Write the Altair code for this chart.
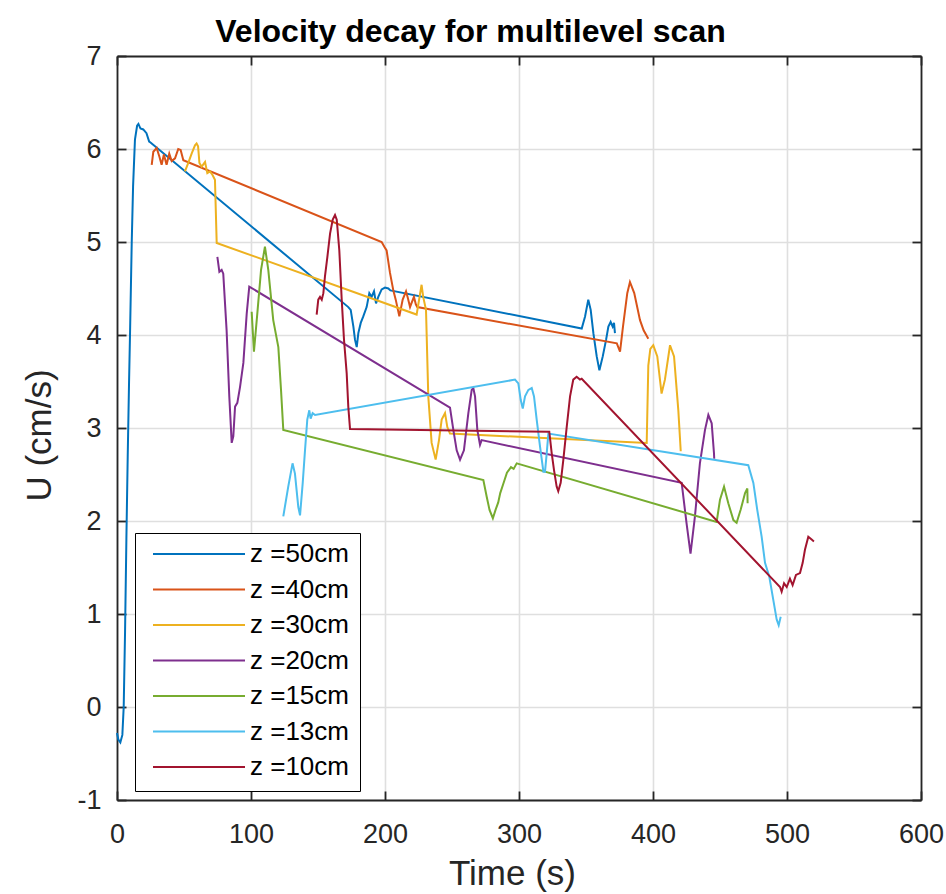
import altair as alt
import pandas as pd

# Depth labels and MATLAB default line colours
series_labels = ["z =50cm", "z =40cm", "z =30cm", "z =20cm", "z =15cm", "z =13cm", "z =10cm"]
series_colors = ["#0072BD", "#D95319", "#EDB120", "#7E2F8E", "#77AC30", "#4DBEEE", "#A2142F"]

# z = 50 cm
t_z50 = [0, 1, 2.5, 4, 5, 6, 7, 8, 9, 9.7, 11, 12, 13.4, 15, 16, 17.5, 19.6, 22, 24, 25,
         172.6, 174.4, 176.4, 177.6, 178.9, 180.1, 181.9, 183.8, 186.3, 188.3, 190, 191.8,
         193.3, 195, 197.5, 200, 202.5, 204,
         346.8, 349.3, 351.7, 353.5, 355.5, 358, 360, 362.5, 365, 366.7, 368.4, 369.9, 370.9, 371.6]
u_z50 = [-0.28, -0.35, -0.38, -0.3, 0.0, 0.8, 1.8, 2.7, 3.5, 4.0, 5.0, 5.6, 6.1, 6.25, 6.27, 6.22,
         6.21, 6.17, 6.08, 6.07,
         4.30, 4.27, 4.09, 3.95, 3.87, 4.02, 4.13, 4.20, 4.30, 4.45, 4.41, 4.47,
         4.34, 4.41, 4.49, 4.51, 4.50, 4.48,
         4.07, 4.20, 4.38, 4.27, 4.02, 3.77, 3.62, 3.77, 3.95, 4.09, 4.14, 4.09, 4.13, 4.02]

# z = 40 cm
t_z40 = [25.9, 27.1, 29.6, 31.6, 33.3, 35, 37, 39, 40.8, 43.3, 45.7, 47.5, 49.5,
         197.5, 199.5, 201.2, 203.7, 206.2, 208, 210.7, 213.2, 215.7, 217, 218.7, 220, 221.6, 223, 224.1,
         373, 375.4, 377.6, 380.8, 382.8, 386, 390.3, 393, 396.5]
u_z40 = [5.83, 5.97, 6.01, 5.92, 5.83, 5.94, 5.83, 5.95, 5.87, 5.90, 6.00, 5.99, 5.88,
         5.00, 4.95, 4.91, 4.67, 4.48, 4.38, 4.20, 4.38, 4.47, 4.40, 4.30, 4.35, 4.41, 4.33, 4.30,
         3.91, 3.82, 4.09, 4.45, 4.57, 4.45, 4.16, 4.05, 3.96]

# z = 30 cm
t_z30 = [50.7, 53.2, 55.7, 58.2, 59.4, 60.5, 61.5, 63.2, 65.7, 67.4, 69.4, 71.3, 73.1, 74.4,
         223.6, 227.3, 228.5, 230.6, 232.3, 234.8, 237.8, 240.3, 242.3, 244.8, 246.5, 248.5,
         395.3, 396.5, 398, 400.2, 403.2, 406.4, 408.9, 412.7, 415.7, 418.9, 420.7]
u_z30 = [5.76, 5.85, 5.95, 6.04, 6.06, 6.03, 5.85, 5.81, 5.86, 5.74, 5.76, 5.72, 5.67, 4.99,
         4.22, 4.54, 4.41, 4.27, 3.34, 2.84, 2.66, 2.87, 3.09, 3.16, 3.01, 2.94,
         2.84, 3.67, 3.85, 3.89, 3.77, 3.37, 3.52, 3.89, 3.77, 3.19, 2.75]

# z = 20 cm
t_z20 = [74.9, 76.4, 78.1, 79.3, 81.8, 83.8, 85.6, 86.8, 88.1, 89.8, 91.8, 94.3, 96.8, 98.7,
         248.5, 251, 253.5, 256, 258.9, 262.2, 264.7, 265.9, 267.2, 268.9, 270.9, 272.1,
         421.4, 425, 428, 431.3, 435, 438.8, 441.3, 443.8, 445.5, 445.7]
u_z20 = [4.84, 4.68, 4.70, 4.66, 4.05, 3.34, 2.84, 2.91, 3.23, 3.27, 3.44, 3.70, 4.23, 4.52,
         3.22, 2.98, 2.76, 2.66, 2.76, 3.16, 3.41, 3.43, 3.34, 2.98, 2.82, 2.87,
         2.41, 1.98, 1.65, 2.05, 2.62, 2.98, 3.14, 3.05, 2.73, 2.67]

# z = 15 cm
t_z15 = [100.5, 102.2, 104.7, 107.5, 110.4, 112.9, 116.6, 120.4, 122.4, 124.1,
         273.4, 275.9, 278, 280.5, 282.5, 284.5, 286, 288.3, 291, 294, 296, 298.3,
         447.5, 450, 453, 456.2, 460, 462.4, 465.4, 468.7, 470.4, 470.6]
u_z15 = [4.25, 3.82, 4.23, 4.70, 4.95, 4.70, 4.16, 3.87, 3.41, 2.98,
         2.44, 2.26, 2.12, 2.03, 2.12, 2.20, 2.30, 2.40, 2.52, 2.58, 2.56, 2.62,
         1.99, 2.23, 2.37, 2.19, 2.01, 1.98, 2.12, 2.30, 2.35, 2.19]

# z = 13 cm
t_z13 = [124.1, 127.8, 131, 132.8, 135.3, 136.6, 138.6, 140.3, 142, 143.5, 144.5, 146, 147.8,
         297, 299.5, 301.3, 302.8, 304.5, 307, 309.5, 311.2, 313.2, 315.7, 318.2, 319.4, 320.7, 321.9,
         471.1, 474.9, 477.8, 481.1, 483.6, 486.8, 489.8, 492.3, 493.8, 495.3]
u_z13 = [2.05, 2.37, 2.62, 2.51, 2.15, 2.06, 2.41, 2.76, 3.09, 3.19, 3.10, 3.16, 3.14,
         3.52, 3.48, 3.30, 3.21, 3.34, 3.41, 3.43, 3.34, 3.09, 2.80, 2.53, 2.53, 2.73, 2.94,
         2.60, 2.41, 2.12, 1.83, 1.55, 1.40, 1.15, 0.94, 0.88, 0.97]

# z = 10 cm
t_z10 = [149, 150.2, 151.5, 152.8, 154, 155.2, 157, 159, 161, 162.7, 164, 165.9, 167.7, 169.4,
         171.4, 172.6, 173.9,
         322.6, 324.4, 326.1, 328.1, 329.3, 331.1, 333.1, 335.6, 338.1, 340.5, 343, 345.5, 346.8,
         494.8, 496, 497.8, 499.8, 502.2, 504.2, 506.7, 509.7, 511.7, 513.4, 515.9, 518.4, 520.1]
u_z10 = [4.22, 4.38, 4.41, 4.38, 4.45, 4.63, 4.84, 5.09, 5.24, 5.29, 5.24, 4.91, 4.38, 3.95,
         3.59, 3.23, 2.99,
         2.96, 2.73, 2.55, 2.37, 2.32, 2.41, 2.66, 3.01, 3.34, 3.52, 3.55, 3.52, 3.53,
         1.29, 1.24, 1.33, 1.29, 1.38, 1.31, 1.42, 1.44, 1.55, 1.69, 1.83, 1.80, 1.78]

x_ticks = [0, 100, 200, 300, 400, 500, 600]
y_ticks = [-1, 0, 1, 2, 3, 4, 5, 6, 7]

chart_title = "Velocity decay for multilevel scan"
x_title = "Time (s)"
y_title = "U (cm/s)"

series_t = [t_z50, t_z40, t_z30, t_z20, t_z15, t_z13, t_z10]
series_u = [u_z50, u_z40, u_z30, u_z20, u_z15, u_z13, u_z10]

rows = []
for label, ts, us in zip(series_labels, series_t, series_u):
    for i, (t, u) in enumerate(zip(ts, us)):
        rows.append({"series": label, "t": t, "u": u, "i": i})
df = pd.DataFrame(rows)

font = "Liberation Sans"
ink = "#262626"
inward = alt.ExprRef(expr="-9")   # MATLAB-style ticks pointing into the box

x_scale = alt.Scale(domain=[0, 600], nice=False, zero=False)
y_scale = alt.Scale(domain=[-1, 7], nice=False, zero=False)

common_axis = dict(
    domainColor=ink, domainWidth=1.8, tickColor=ink, tickWidth=1.8,
    tickSize=inward, labelFlush=False, labelOverlap=False,
)
label_style = dict(labelFont=font, labelFontSize=27, labelColor=ink,
                   labelExpr="'' + datum.value")
title_style = dict(titleFont=font, titleFontSize=35, titleColor=ink, titleFontWeight="normal")

# trailing blank room inside the legend frame, to the right of the labels
legend_tail = "\u00a0" * 6

lines = alt.Chart(df).mark_line(strokeWidth=2).encode(
    x=alt.X("t:Q", scale=x_scale, axis=alt.Axis(
        values=x_ticks, title=x_title, grid=True, gridColor="#dfdfdf", gridWidth=1.6,
        labelPadding=30, titleX=395, titleY=84, titleAlign="center",
        titleBaseline="alphabetic", **label_style, **title_style, **common_axis)),
    y=alt.Y("u:Q", scale=y_scale, axis=alt.Axis(
        values=y_ticks, title=y_title, grid=True, gridColor="#dfdfdf", gridWidth=1.6,
        labelPadding=25, titleX=-67, titleY=379, titleAlign="center",
        titleBaseline="alphabetic", titleAngle=270,
        **label_style, **title_style, **common_axis)),
    color=alt.Color("series:N", scale=alt.Scale(domain=series_labels, range=series_colors),
                    legend=alt.Legend(
                        title=None, orient="none", legendX=18, legendY=477,
                        symbolType="stroke", symbolSize=8464, symbolStrokeWidth=2,
                        clipHeight=20, rowPadding=9.5, padding=11,
                        symbolOffset=6, labelOffset=4,
                        labelFont=font, labelFontSize=26, labelColor="black",
                        labelExpr=f"datum.label + '{legend_tail}'",
                        strokeColor="black", fillColor="white")),
    order=alt.Order("i:Q"),
)

# top edge carries the bold chart title; top and right edges get mirrored inward ticks
frame = alt.Chart(df).mark_point(opacity=0).encode(
    x=alt.X("t:Q", scale=x_scale, axis=alt.Axis(
        orient="top", values=x_ticks, labels=False, grid=False,
        title=chart_title, titleFont=font, titleFontSize=32, titleFontWeight="bold",
        titleColor="black", titleX=353, titleY=-15, titleAlign="center",
        titleBaseline="alphabetic", **common_axis)),
    y=alt.Y("u:Q", scale=y_scale, axis=alt.Axis(
        orient="right", values=y_ticks, labels=False, title=None, grid=False, **common_axis)),
)

chart = alt.layer(lines, frame).resolve_axis(x="independent", y="independent").properties(
    width=804, height=744,
    autosize=alt.AutoSizeParams(type="none"),
    padding={"left": 117, "top": 56, "right": 25, "bottom": 94},
).configure_view(stroke=None).configure(background="white")

chart.save("out.html", embed_options={"renderer": "svg", "actions": False})
